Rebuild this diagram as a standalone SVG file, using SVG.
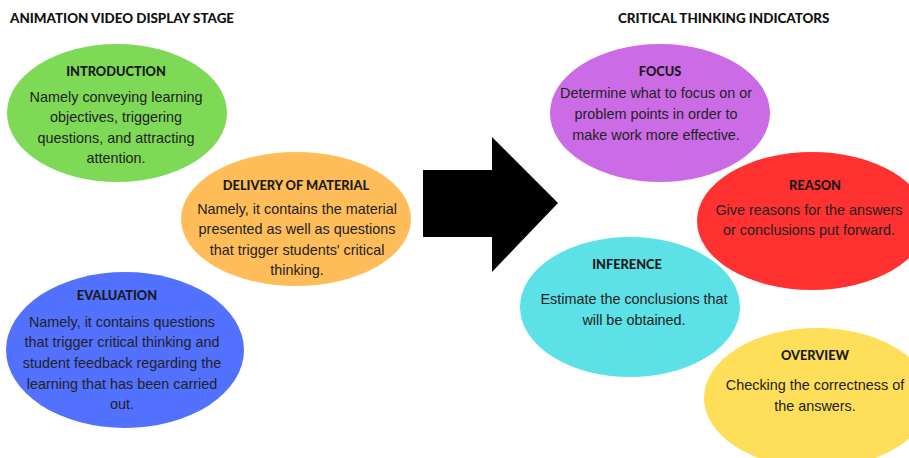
<svg xmlns="http://www.w3.org/2000/svg" width="909" height="458" viewBox="0 0 909 458">
<style>
.title{font-family:Lato,"Liberation Sans",sans-serif;font-weight:900;font-size:13.4px;fill:#111}
.head{font-family:Lato,"Liberation Sans",sans-serif;font-weight:900;font-size:12.8px;fill:#1a1a1a;text-anchor:middle}
.body{font-family:"Liberation Sans",Arial,sans-serif;font-size:14.4px;fill:#222;text-anchor:middle}
</style>
<rect width="909" height="458" fill="#ffffff"/>
<text class="title" x="10" y="23">ANIMATION VIDEO DISPLAY STAGE</text>
<text class="title" x="618" y="23">CRITICAL THINKING INDICATORS</text>
<g id="connectors">
<polygon points="423,170 492,170 492,137 558,203 492,272 492,237 423,237" fill="#000"/>
</g>
<g id="introduction">
<ellipse cx="117" cy="113" rx="110" ry="69" fill="#7ed957"/>
<text class="head" x="116" y="76">INTRODUCTION</text>
<text class="body" x="116" y="102">Namely conveying learning</text>
<text class="body" x="116" y="122">objectives, triggering</text>
<text class="body" x="116" y="143">questions, and attracting</text>
<text class="body" x="116" y="163">attention.</text>
</g>
<g id="delivery">
<ellipse cx="296" cy="219" rx="115" ry="67" fill="#ffbd59"/>
<text class="head" x="296" y="190">DELIVERY OF MATERIAL</text>
<text class="body" x="297" y="214">Namely, it contains the material</text>
<text class="body" x="297" y="234">presented as well as questions</text>
<text class="body" x="297" y="255">that trigger students' critical</text>
<text class="body" x="297" y="275">thinking.</text>
</g>
<g id="evaluation">
<ellipse cx="125" cy="350" rx="119" ry="78" fill="#5271ff"/>
<text class="head" x="117" y="300">EVALUATION</text>
<text class="body" x="122" y="327">Namely, it contains questions</text>
<text class="body" x="122" y="347">that trigger critical thinking and</text>
<text class="body" x="122" y="368">student feedback regarding the</text>
<text class="body" x="122" y="389">learning that has been carried</text>
<text class="body" x="122" y="409">out.</text>
</g>
<g id="focus">
<ellipse cx="660" cy="113" rx="110" ry="69" fill="#cb6ce6"/>
<text class="head" x="660" y="76">FOCUS</text>
<text class="body" x="656" y="98">Determine what to focus on or</text>
<text class="body" x="656" y="119">problem points in order to</text>
<text class="body" x="656" y="140">make work more effective.</text>
</g>
<g id="reason">
<ellipse cx="812" cy="221" rx="115" ry="69" fill="#ff3131"/>
<text class="head" x="815" y="190">REASON</text>
<text class="body" x="809" y="215">Give reasons for the answers</text>
<text class="body" x="809" y="235">or conclusions put forward.</text>
</g>
<g id="inference">
<ellipse cx="630" cy="307" rx="110" ry="70" fill="#5ce1e6"/>
<text class="head" x="627" y="269">INFERENCE</text>
<text class="body" x="634" y="304">Estimate the conclusions that</text>
<text class="body" x="634" y="325">will be obtained.</text>
</g>
<g id="overview">
<ellipse cx="817" cy="398" rx="113" ry="70" fill="#ffde59"/>
<text class="head" x="815" y="360">OVERVIEW</text>
<text class="body" x="815" y="390">Checking the correctness of</text>
<text class="body" x="815" y="411">the answers.</text>
</g>
</svg>
